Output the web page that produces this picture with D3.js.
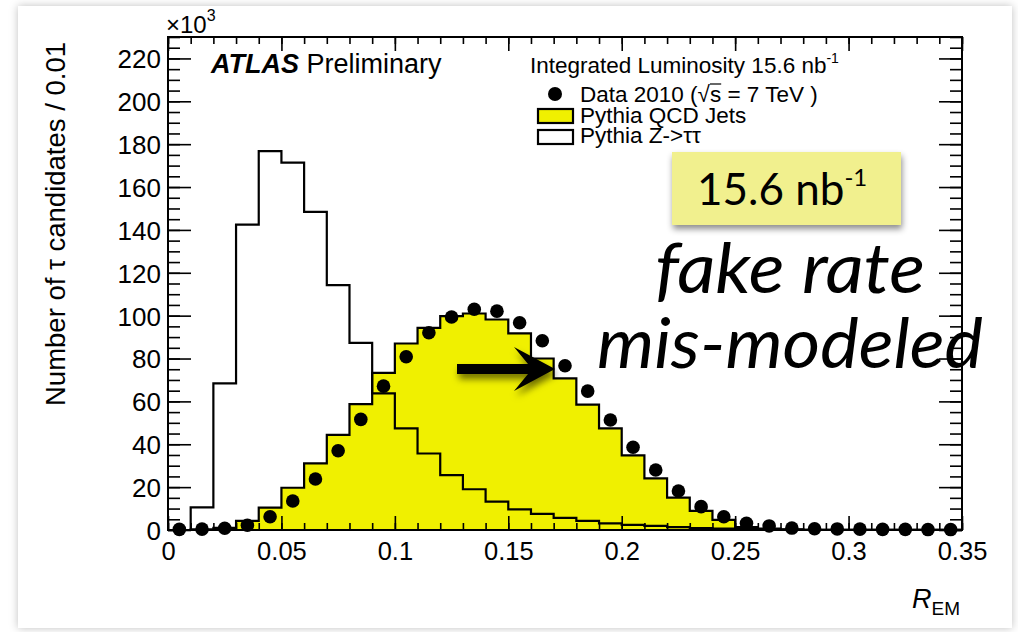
<!DOCTYPE html>
<html>
<head>
<meta charset="utf-8">
<script src="https://cdn.jsdelivr.net/npm/d3@7"></script>
<style>
  html, body { margin: 0; padding: 0; background: #ffffff; }
  svg { display: block; }
</style>
</head>
<body>
<svg id="chart" width="1018" height="632"></svg>
<script>
// ---- data (bin lower edges of R_EM, width 0.01) ----
const binLow = [0.00,0.01,0.02,0.03,0.04,0.05,0.06,0.07,0.08,0.09,
                0.10,0.11,0.12,0.13,0.14,0.15,0.16,0.17,0.18,0.19,
                0.20,0.21,0.22,0.23,0.24,0.25,0.26,0.27,0.28,0.29,
                0.30,0.31,0.32,0.33,0.34];
const binWidth = 0.01;
// values in units of 10^3 candidates
const qcdJets = [0, 0.3, 1.0, 4.3, 10.4, 19.7, 31.1, 44.4, 58.7, 73.3,
                 87.0, 94.3, 99.8, 101.0, 98.2, 91.7, 80.0, 70.7, 58.5, 47.4,
                 34.8, 24.1, 15.1, 8.9, 4.7, 1.3, 0.6, 0.3, 0.1, 0.1,
                 0.1, 0.1, 0.1, 0.1, 0.1];
const zTauTau = [0, 10.6, 68.4, 142.5, 176.8, 171.4, 148.4, 114.2, 87.3, 63.7,
                 47.4, 35.7, 25.6, 19.0, 13.2, 9.6, 7.5, 5.7, 4.3, 3.1,
                 2.4, 1.9, 1.3, 0.9, 0.6, 0.4, 0.3, 0.2, 0.1, 0.1,
                 0.1, 0.1, 0.1, 0.1, 0.1];
const data2010 = [0.3, 0.4, 0.8, 2.2, 6.2, 13.5, 23.8, 37.0, 51.6, 67.1,
                  80.8, 92.0, 99.4, 103.0, 102.1, 96.7, 88.3, 76.6, 64.8, 51.3,
                  38.6, 28.0, 18.2, 10.9, 6.2, 3.1, 1.9, 0.9, 0.6, 0.5,
                  0.4, 0.3, 0.3, 0.2, 0.2];
const xTicks = [0, 0.05, 0.1, 0.15, 0.2, 0.25, 0.3, 0.35];
const xTickLabels = ["0", "0.05", "0.1", "0.15", "0.2", "0.25", "0.3", "0.35"];
const yTicks = [0, 20, 40, 60, 80, 100, 120, 140, 160, 180, 200, 220];
const yTickLabels = ["0", "20", "40", "60", "80", "100", "120", "140", "160", "180", "200", "220"];

const svg = d3.select("#chart");
const ROOTFONT = "'Liberation Sans', Arial, Helvetica, sans-serif";
const SLIDEFONT = "Lato, 'Open Sans', sans-serif";

const x = d3.scaleLinear().domain([0, 0.35]).range([168, 962]);
const y = d3.scaleLinear().domain([0, 230]).range([530, 37]);

// ---- defs ----
const defs = svg.append("defs");
const sh = defs.append("filter").attr("id", "slideShadow")
  .attr("x", "-5%").attr("y", "-5%").attr("width", "110%").attr("height", "110%");
sh.append("feDropShadow").attr("dx", 0).attr("dy", 0).attr("stdDeviation", 4)
  .attr("flood-color", "#000").attr("flood-opacity", 0.25);
const bs = defs.append("filter").attr("id", "boxShadow")
  .attr("x", "-20%").attr("y", "-30%").attr("width", "140%").attr("height", "170%");
bs.append("feDropShadow").attr("dx", 1).attr("dy", 4).attr("stdDeviation", 3)
  .attr("flood-color", "#000").attr("flood-opacity", 0.45);
const as = defs.append("filter").attr("id", "arrowShadow")
  .attr("x", "-30%").attr("y", "-60%").attr("width", "160%").attr("height", "220%");
as.append("feDropShadow").attr("dx", 2).attr("dy", 5).attr("stdDeviation", 3.5)
  .attr("flood-color", "#000").attr("flood-opacity", 0.55);

// ---- slide panel ----
svg.append("rect").attr("x", 18).attr("y", 6).attr("width", 994).attr("height", 622)
  .attr("fill", "#ffffff").attr("filter", "url(#slideShadow)");

// ---- histograms ----
const stepPts = vals => {
  const pts = binLow.map((b, i) => [b, vals[i]]);
  pts.push([binLow[binLow.length - 1] + binWidth, vals[vals.length - 1]]);
  return pts;
};
const area = d3.area().x(d => x(d[0])).y0(y(0)).y1(d => y(d[1])).curve(d3.curveStepAfter);
const line = d3.line().x(d => x(d[0])).y(d => y(d[1])).curve(d3.curveStepAfter);

svg.append("path").attr("d", area(stepPts(qcdJets))).attr("fill", "#f0f000");
svg.append("path").attr("d", line(stepPts(qcdJets))).attr("fill", "none")
  .attr("stroke", "#000").attr("stroke-width", 2.2);
svg.append("path").attr("d", line(stepPts(zTauTau))).attr("fill", "none")
  .attr("stroke", "#000").attr("stroke-width", 2.2);

// ---- axes (ROOT style, ticks inside, on all four sides) ----
const xMinor = d3.range(0, 36).map(i => i / 100);
const yMinor = d3.range(0, 231, 5);

function styleAxis(g) {
  g.select(".domain").remove();
  g.selectAll("line").attr("stroke", "#000").attr("stroke-width", 1.6);
  g.selectAll("text").attr("font-family", ROOTFONT).attr("fill", "#000");
}

// bottom
svg.append("g").attr("transform", `translate(0,${y(0)})`)
  .call(d3.axisBottom(x).tickValues(xMinor).tickSize(-7).tickFormat(""))
  .call(styleAxis);
svg.append("g").attr("transform", `translate(0,${y(0)})`)
  .call(d3.axisBottom(x).tickValues(xTicks).tickSize(-14).tickPadding(12)
    .tickFormat((d, i) => xTickLabels[i]))
  .call(styleAxis)
  .call(g => g.selectAll("text").attr("font-size", 25.5));
// top
svg.append("g").attr("transform", `translate(0,${y(230)})`)
  .call(d3.axisTop(x).tickValues(xMinor).tickSize(-7).tickFormat(""))
  .call(styleAxis);
svg.append("g").attr("transform", `translate(0,${y(230)})`)
  .call(d3.axisTop(x).tickValues(xTicks).tickSize(-14).tickFormat(""))
  .call(styleAxis);
// left
svg.append("g").attr("transform", `translate(${x(0)},0)`)
  .call(d3.axisLeft(y).tickValues(yMinor).tickSize(-12).tickFormat(""))
  .call(styleAxis);
svg.append("g").attr("transform", `translate(${x(0)},0)`)
  .call(d3.axisLeft(y).tickValues(yTicks).tickSize(-23).tickPadding(7)
    .tickFormat((d, i) => yTickLabels[i]))
  .call(styleAxis)
  .call(g => g.selectAll("text").attr("font-size", 26).attr("dy", "0.36em"));
// right
svg.append("g").attr("transform", `translate(${x(0.35)},0)`)
  .call(d3.axisRight(y).tickValues(yMinor).tickSize(-12).tickFormat(""))
  .call(styleAxis);
svg.append("g").attr("transform", `translate(${x(0.35)},0)`)
  .call(d3.axisRight(y).tickValues(yTicks).tickSize(-23).tickFormat(""))
  .call(styleAxis);

// frame
svg.append("rect").attr("x", x(0)).attr("y", y(230))
  .attr("width", x(0.35) - x(0)).attr("height", y(0) - y(230))
  .attr("fill", "none").attr("stroke", "#000").attr("stroke-width", 2);

// ---- data points ----
svg.append("g").selectAll("circle").data(data2010).join("circle")
  .attr("cx", (d, i) => x(binLow[i] + binWidth / 2))
  .attr("cy", d => y(d))
  .attr("r", 6.8)
  .attr("fill", "#000");

// ---- axis titles ----
svg.append("text").attr("transform", "translate(65,224) rotate(-90)")
  .attr("text-anchor", "middle").attr("font-family", ROOTFONT).attr("font-size", 27.5)
  .text("Number of τ candidates / 0.01");

const xt = svg.append("text").attr("x", 960).attr("y", 608).attr("text-anchor", "end")
  .attr("font-family", ROOTFONT).attr("font-size", 27);
xt.append("tspan").attr("font-style", "italic").text("R");
xt.append("tspan").attr("font-size", 19).attr("dy", 7).text("EM");

const mult = svg.append("text").attr("x", 166).attr("y", 33)
  .attr("font-family", ROOTFONT).attr("font-size", 24);
mult.append("tspan").text("×10");
mult.append("tspan").attr("font-size", 16).attr("dy", -12).text("3");

// ---- ATLAS label ----
const atl = svg.append("text").attr("x", 211).attr("y", 73)
  .attr("font-family", ROOTFONT).attr("font-size", 27);
atl.append("tspan").attr("font-weight", "bold").attr("font-style", "italic").text("ATLAS");
atl.append("tspan").text(" Preliminary");

// ---- legend ----
const lum = svg.append("text").attr("x", 530).attr("y", 73)
  .attr("font-family", ROOTFONT).attr("font-size", 22.5);
lum.append("tspan").text("Integrated Luminosity 15.6 nb");
lum.append("tspan").attr("font-size", 14).attr("dy", -10).text("-1");

svg.append("circle").attr("cx", 555).attr("cy", 94).attr("r", 7).attr("fill", "#000");
const dataTxt = svg.append("text").attr("x", 580).attr("y", 102).attr("font-family", ROOTFONT)
  .attr("font-size", 22.5).text("Data 2010 (√s = 7 TeV )");
// overline above the "s" of √s
{
  const node = dataTxt.node();
  const str = "Data 2010 (√s = 7 TeV )";
  const si = str.indexOf("√") + 1;
  const ext = node.getExtentOfChar(si);
  svg.append("line").attr("x1", ext.x).attr("x2", ext.x + ext.width)
    .attr("y1", 84).attr("y2", 84)
    .attr("stroke", "#000").attr("stroke-width", 1.2);
}

svg.append("rect").attr("x", 538).attr("y", 109).attr("width", 35).attr("height", 14)
  .attr("fill", "#f0f000").attr("stroke", "#000").attr("stroke-width", 2.2);
svg.append("text").attr("x", 580).attr("y", 123).attr("font-family", ROOTFONT)
  .attr("font-size", 22.5).text("Pythia QCD Jets");

svg.append("rect").attr("x", 538).attr("y", 130).attr("width", 35).attr("height", 14)
  .attr("fill", "#fff").attr("stroke", "#000").attr("stroke-width", 2.2);
svg.append("text").attr("x", 580).attr("y", 143).attr("font-family", ROOTFONT)
  .attr("font-size", 22.5).text("Pythia Z->ττ");

// ---- annotations ----
svg.append("rect").attr("x", 672).attr("y", 152).attr("width", 229).attr("height", 73)
  .attr("fill", "#f1f08e").attr("filter", "url(#boxShadow)");
const lumBox = svg.append("text").attr("x", 697).attr("y", 205)
  .attr("font-family", SLIDEFONT).attr("font-size", 44).attr("fill", "#000");
lumBox.append("tspan").text("15.6 nb");
lumBox.append("tspan").attr("font-size", 24).attr("dy", -19).text("-1");

// arrow
svg.append("path")
  .attr("d", "M457,364 L528,364 L514,347 L555,369 L514,391 L528,374 L457,374 Z")
  .attr("fill", "#000").attr("filter", "url(#arrowShadow)");

svg.append("text").attr("x", 655).attr("y", 293)
  .attr("font-family", SLIDEFONT).attr("font-style", "italic").attr("font-size", 70)
  .attr("textLength", 270).attr("lengthAdjust", "spacingAndGlyphs")
  .attr("fill", "#000").text("fake rate");
svg.append("text").attr("x", 597).attr("y", 368)
  .attr("font-family", SLIDEFONT).attr("font-style", "italic").attr("font-size", 70)
  .attr("textLength", 386).attr("lengthAdjust", "spacingAndGlyphs")
  .attr("fill", "#000").text("mis-modeled");
</script>
</body>
</html>
